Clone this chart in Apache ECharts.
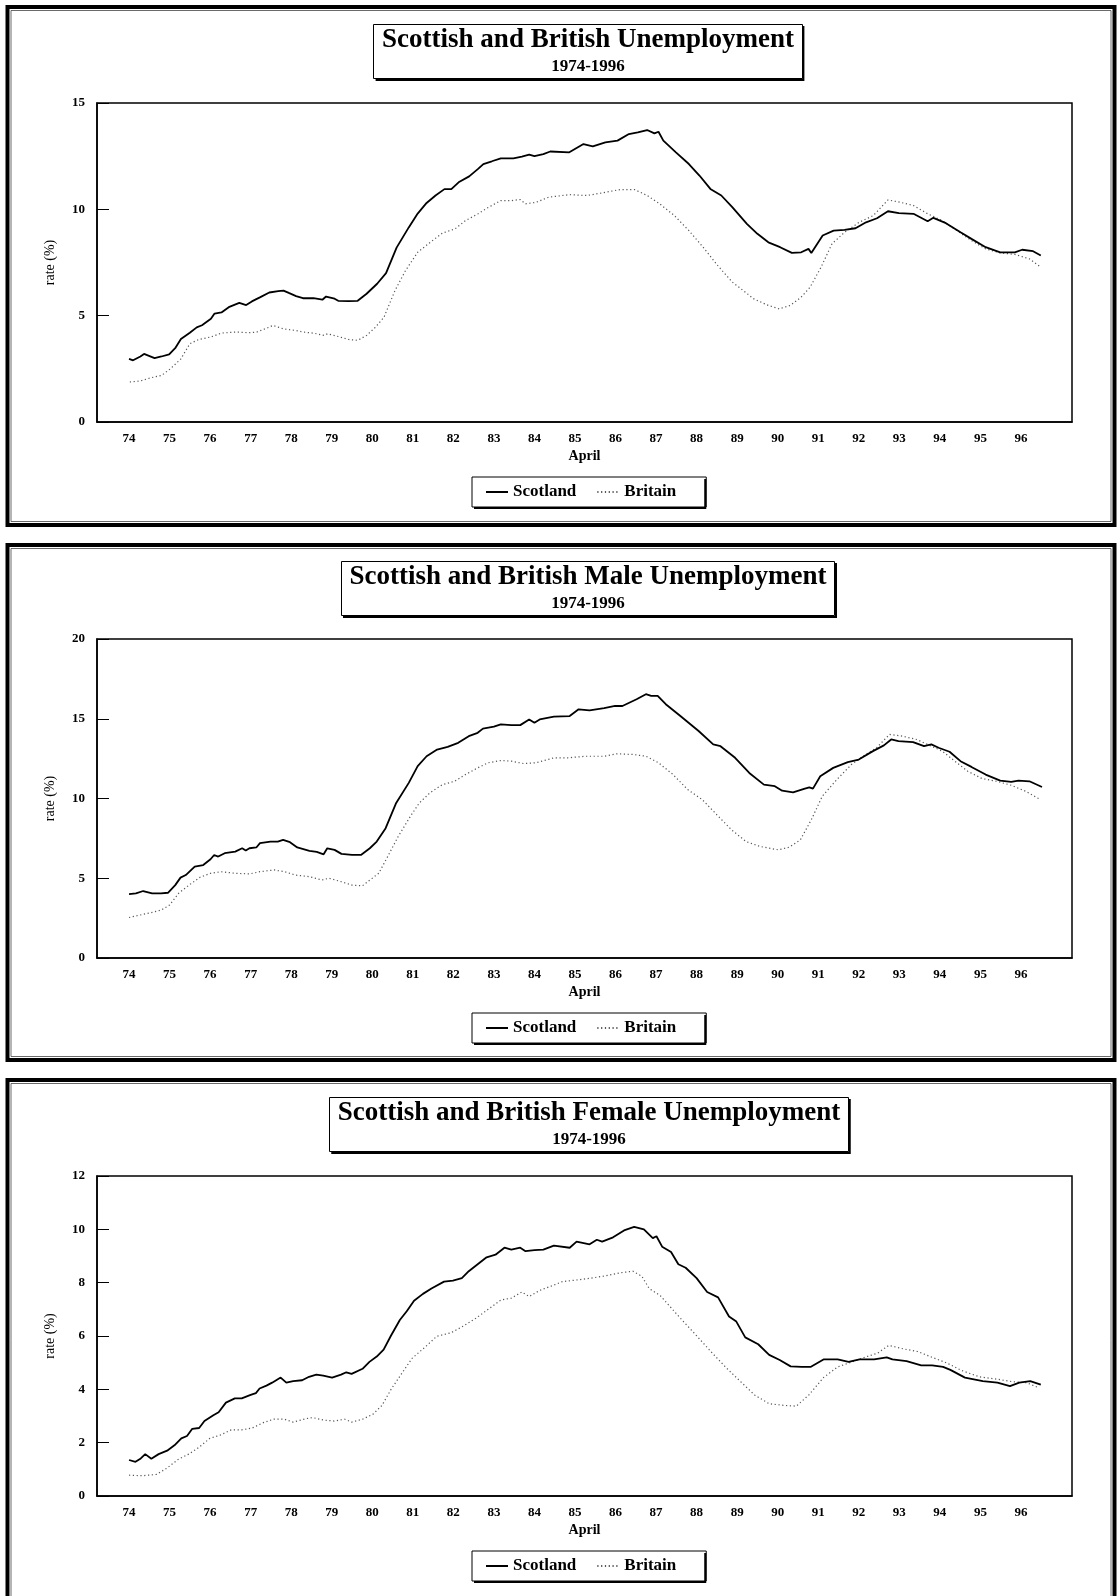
<!DOCTYPE html>
<html>
<head>
<meta charset="utf-8">
<script src="https://cdn.jsdelivr.net/npm/echarts@6/dist/echarts.min.js"></script>
<style>
  html, body { margin: 0; padding: 0; background: #fff; }
  #chart { width: 1117px; height: 1596px; }
</style>
</head>
<body>
<div id="chart"></div>
<script>
// ---------- data (x = year label, 74 = April 1974; y = rate %) ----------
const tickYears = [74,75,76,77,78,79,80,81,82,83,84,85,86,87,88,89,90,91,92,93,94,95,96];

const panelTitles = [
  'Scottish and British Unemployment',
  'Scottish and British Male Unemployment',
  'Scottish and British Female Unemployment'
];
const panelSubtitle = '1974-1996';
const seriesNames = ['Scotland', 'Britain'];
const yMaxes = [15, 20, 12];
const yIntervals = [5, 5, 2];

const scotlandAll = [[74.00,2.97],[74.10,2.90],[74.28,3.08],[74.37,3.20],[74.63,3.00],[74.80,3.08],[74.99,3.18],[75.15,3.50],[75.28,3.90],[75.50,4.20],[75.67,4.45],[75.80,4.55],[76.02,4.85],[76.11,5.10],[76.28,5.15],[76.46,5.40],[76.72,5.60],[76.89,5.50],[77.03,5.67],[77.24,5.87],[77.46,6.09],[77.68,6.15],[77.81,6.18],[77.94,6.07],[78.12,5.92],[78.29,5.82],[78.55,5.82],[78.77,5.75],[78.86,5.90],[79.07,5.80],[79.16,5.70],[79.42,5.68],[79.64,5.70],[79.86,6.03],[80.12,6.50],[80.34,7.00],[80.60,8.20],[80.90,9.15],[81.12,9.80],[81.34,10.30],[81.56,10.65],[81.78,10.95],[81.95,10.95],[82.13,11.27],[82.39,11.55],[82.61,11.90],[82.74,12.13],[82.95,12.26],[83.17,12.40],[83.48,12.40],[83.69,12.48],[83.87,12.57],[84.00,12.50],[84.22,12.60],[84.39,12.72],[84.86,12.68],[85.21,13.07],[85.44,12.96],[85.75,13.15],[86.05,13.23],[86.33,13.54],[86.55,13.62],[86.78,13.73],[86.96,13.57],[87.06,13.65],[87.18,13.23],[87.49,12.68],[87.81,12.13],[88.07,11.59],[88.34,10.96],[88.61,10.65],[88.88,10.10],[89.24,9.32],[89.50,8.85],[89.77,8.45],[90.06,8.22],[90.35,7.95],[90.58,7.98],[90.76,8.14],[90.83,7.95],[91.11,8.77],[91.38,9.00],[91.65,9.03],[91.92,9.11],[92.18,9.39],[92.45,9.58],[92.72,9.91],[92.99,9.82],[93.35,9.79],[93.70,9.44],[93.84,9.60],[94.15,9.35],[94.51,8.92],[94.78,8.61],[95.13,8.22],[95.49,7.98],[95.85,7.98],[96.03,8.10],[96.30,8.03],[96.49,7.83]];

const britainAll = [[74.02,1.88],[74.28,1.93],[74.54,2.08],[74.80,2.19],[75.02,2.50],[75.28,2.97],[75.50,3.68],[75.72,3.88],[76.02,4.00],[76.28,4.18],[76.63,4.23],[76.98,4.20],[77.15,4.23],[77.42,4.43],[77.55,4.54],[77.81,4.38],[78.12,4.30],[78.29,4.23],[78.55,4.18],[78.81,4.07],[78.90,4.15],[79.16,4.02],[79.42,3.88],[79.64,3.84],[79.86,4.07],[80.08,4.46],[80.29,4.93],[80.56,6.18],[80.82,7.12],[81.12,7.98],[81.43,8.45],[81.73,8.88],[82.04,9.08],[82.30,9.47],[82.61,9.79],[82.87,10.10],[83.17,10.41],[83.43,10.41],[83.65,10.46],[83.78,10.26],[84.04,10.33],[84.35,10.57],[84.86,10.69],[85.30,10.65],[85.75,10.80],[86.11,10.93],[86.47,10.93],[86.78,10.65],[87.09,10.26],[87.45,9.71],[87.81,9.00],[88.16,8.22],[88.52,7.36],[88.88,6.58],[89.15,6.18],[89.41,5.79],[89.77,5.48],[90.04,5.32],[90.31,5.48],[90.58,5.87],[90.80,6.34],[91.07,7.28],[91.34,8.38],[91.65,8.92],[92.01,9.39],[92.36,9.71],[92.72,10.44],[93.03,10.33],[93.35,10.18],[93.70,9.79],[94.06,9.47],[94.42,9.00],[94.78,8.53],[95.13,8.14],[95.49,7.95],[95.85,7.88],[96.21,7.67],[96.49,7.28]];

const scotlandMale = [[74.00,4.01],[74.17,4.05],[74.35,4.20],[74.57,4.05],[74.79,4.05],[74.96,4.09],[75.14,4.57],[75.27,5.04],[75.40,5.20],[75.62,5.73],[75.83,5.83],[76.01,6.19],[76.10,6.46],[76.20,6.36],[76.36,6.57],[76.62,6.67],[76.79,6.88],[76.88,6.74],[76.97,6.88],[77.14,6.93],[77.23,7.20],[77.49,7.30],[77.67,7.30],[77.80,7.41],[77.97,7.26],[78.15,6.93],[78.45,6.72],[78.63,6.65],[78.80,6.50],[78.89,6.88],[79.07,6.78],[79.24,6.53],[79.50,6.46],[79.72,6.46],[79.94,6.88],[80.11,7.30],[80.33,8.14],[80.59,9.72],[80.90,10.98],[81.12,12.03],[81.34,12.65],[81.60,13.07],[81.86,13.24],[82.12,13.49],[82.38,13.91],[82.60,14.12],[82.73,14.38],[83.00,14.50],[83.17,14.65],[83.43,14.60],[83.65,14.60],[83.87,14.96],[84.00,14.75],[84.13,14.96],[84.48,15.13],[84.87,15.17],[85.09,15.59],[85.36,15.53],[85.72,15.66],[85.99,15.80],[86.17,15.80],[86.52,16.22],[86.75,16.54],[86.88,16.43],[87.04,16.43],[87.24,15.91],[87.60,15.17],[88.05,14.23],[88.41,13.39],[88.59,13.28],[88.95,12.55],[89.30,11.60],[89.66,10.87],[89.93,10.77],[90.11,10.49],[90.38,10.39],[90.65,10.60],[90.78,10.70],[90.87,10.62],[91.05,11.40],[91.37,11.92],[91.73,12.28],[92.00,12.44],[92.35,12.97],[92.62,13.33],[92.80,13.70],[92.98,13.60],[93.34,13.54],[93.61,13.28],[93.79,13.39],[93.97,13.18],[94.24,12.93],[94.51,12.34],[94.78,11.98],[95.13,11.50],[95.49,11.12],[95.76,11.04],[95.94,11.12],[96.21,11.08],[96.52,10.72]];

const britainMale = [[74.00,2.54],[74.26,2.69],[74.52,2.83],[74.79,3.00],[75.00,3.32],[75.22,4.05],[75.48,4.57],[75.75,5.06],[76.01,5.31],[76.27,5.41],[76.62,5.31],[76.97,5.27],[77.23,5.41],[77.58,5.52],[77.84,5.41],[78.10,5.20],[78.45,5.10],[78.76,4.89],[78.93,5.00],[79.24,4.78],[79.50,4.57],[79.76,4.53],[79.94,4.89],[80.16,5.31],[80.38,6.36],[80.64,7.62],[80.94,8.88],[81.16,9.72],[81.42,10.35],[81.73,10.87],[82.03,11.08],[82.30,11.50],[82.60,11.92],[82.86,12.24],[83.17,12.38],[83.43,12.34],[83.74,12.19],[84.04,12.24],[84.48,12.55],[84.82,12.55],[85.27,12.65],[85.72,12.65],[86.03,12.80],[86.43,12.76],[86.75,12.65],[87.06,12.24],[87.42,11.50],[87.78,10.56],[88.14,9.93],[88.50,8.98],[88.86,8.04],[89.22,7.30],[89.57,6.99],[90.02,6.78],[90.29,6.95],[90.56,7.41],[90.83,8.67],[91.10,10.14],[91.46,11.19],[91.82,12.13],[92.17,12.76],[92.44,13.18],[92.76,14.02],[93.07,13.91],[93.43,13.70],[93.79,13.28],[94.06,12.97],[94.42,12.24],[94.69,11.71],[95.04,11.25],[95.40,11.08],[95.76,10.83],[96.12,10.45],[96.48,9.93]];

const scotlandFemale = [[74.00,1.35],[74.16,1.28],[74.29,1.41],[74.40,1.57],[74.55,1.40],[74.73,1.57],[74.94,1.70],[75.12,1.90],[75.29,2.16],[75.43,2.25],[75.56,2.52],[75.73,2.55],[75.86,2.81],[76.08,3.03],[76.21,3.14],[76.39,3.50],[76.61,3.66],[76.78,3.66],[77.00,3.79],[77.13,3.86],[77.22,4.03],[77.39,4.14],[77.53,4.25],[77.74,4.44],[77.88,4.25],[78.05,4.31],[78.27,4.34],[78.44,4.47],[78.62,4.55],[78.79,4.51],[79.01,4.44],[79.23,4.55],[79.36,4.64],[79.49,4.58],[79.76,4.77],[79.93,5.03],[80.11,5.23],[80.28,5.49],[80.46,6.01],[80.68,6.60],[80.85,6.93],[81.03,7.32],[81.25,7.58],[81.46,7.78],[81.77,8.04],[81.99,8.08],[82.21,8.17],[82.38,8.43],[82.60,8.69],[82.82,8.95],[83.04,9.05],[83.26,9.31],[83.43,9.24],[83.65,9.31],[83.78,9.18],[84.00,9.22],[84.22,9.24],[84.48,9.39],[84.87,9.31],[85.04,9.54],[85.36,9.44],[85.54,9.61],[85.67,9.54],[85.94,9.70],[86.21,9.96],[86.46,10.09],[86.70,10.00],[86.92,9.67],[87.01,9.74],[87.15,9.35],[87.37,9.15],[87.55,8.69],[87.73,8.56],[88.00,8.17],[88.26,7.65],[88.53,7.45],[88.80,6.73],[88.98,6.54],[89.20,5.95],[89.52,5.69],[89.79,5.29],[90.05,5.10],[90.32,4.86],[90.59,4.84],[90.81,4.84],[91.13,5.12],[91.48,5.12],[91.75,5.03],[92.02,5.12],[92.38,5.12],[92.69,5.20],[92.83,5.12],[93.18,5.06],[93.54,4.90],[93.81,4.90],[94.08,4.84],[94.26,4.73],[94.62,4.44],[95.06,4.31],[95.42,4.25],[95.73,4.12],[95.96,4.25],[96.23,4.31],[96.49,4.18]];

const britainFemale = [[74.00,0.78],[74.33,0.76],[74.68,0.81],[74.94,1.05],[75.21,1.37],[75.47,1.57],[75.73,1.83],[75.99,2.16],[76.26,2.29],[76.52,2.48],[76.78,2.48],[77.04,2.55],[77.31,2.75],[77.57,2.88],[77.83,2.88],[78.05,2.77],[78.36,2.90],[78.53,2.94],[78.79,2.85],[79.06,2.81],[79.32,2.88],[79.49,2.77],[79.76,2.88],[80.02,3.07],[80.24,3.40],[80.46,3.99],[80.72,4.58],[80.98,5.16],[81.33,5.62],[81.59,5.99],[81.94,6.12],[82.21,6.34],[82.56,6.67],[82.91,7.06],[83.17,7.35],[83.43,7.42],[83.69,7.65],[83.87,7.48],[84.13,7.71],[84.48,7.91],[84.69,8.04],[85.04,8.10],[85.40,8.17],[85.76,8.26],[86.12,8.37],[86.43,8.43],[86.65,8.24],[86.83,7.78],[87.10,7.52],[87.37,7.06],[87.64,6.60],[88.00,6.01],[88.35,5.42],[88.71,4.84],[89.07,4.31],[89.43,3.79],[89.79,3.46],[90.14,3.40],[90.46,3.37],[90.77,3.79],[91.13,4.44],[91.48,4.84],[91.84,5.03],[92.20,5.23],[92.47,5.36],[92.74,5.65],[93.09,5.52],[93.45,5.42],[93.81,5.20],[94.17,4.99],[94.53,4.71],[94.97,4.47],[95.42,4.38],[95.78,4.29],[96.14,4.25],[96.45,4.05]];

const panelData = [
  [scotlandAll, britainAll],
  [scotlandMale, britainMale],
  [scotlandFemale, britainFemale]
];

// ---------- layout / style ----------
const FONT = '"Liberation Serif", "Times New Roman", serif';
const layout = [
  { frameY: 7,    frameH: 518, gridTop: 103,  gridH: 319, titleTop: 24,   titleCx: 588, legendTop: 477 },
  { frameY: 545,  frameH: 515, gridTop: 639,  gridH: 319, titleTop: 561,  titleCx: 588, legendTop: 1013 },
  { frameY: 1080, frameH: 540, gridTop: 1176, gridH: 320, titleTop: 1097, titleCx: 589, legendTop: 1551 }
];
const TITLE = { size: 27, lh: 27, subSize: 17, subLh: 20, padTop: 3, gap: 3, padBottom: 2, padX: 8.5 };
const LEG = { size: 17, lh: 18, padTop: 6, padRight: 30, padBottom: 6, padLeft: 13, itemW: 22, itemH: 14, gap: 20, left: 472 };

// text width measurement (same canvas metrics ECharts uses)
const measureCtx = document.createElement('canvas').getContext('2d');
function textWidth(str, size) {
  measureCtx.font = 'bold ' + size + 'px ' + FONT;
  return measureCtx.measureText(str).width;
}
function shadowLines(l, t, r, b) {
  return {
    type: 'polyline', silent: true, z: 100,
    shape: { points: [[r + 1, t + 2], [r + 1, b + 1], [l + 2, b + 1]] },
    style: { fill: 'none', stroke: '#000', lineWidth: 2 }
  };
}

const chart = echarts.init(document.getElementById('chart'), null, { renderer: 'canvas' });

const option = {
  backgroundColor: '#fff',
  animation: false,
  title: [], legend: [], grid: [], xAxis: [], yAxis: [], series: [],
  graphic: []
};

layout.forEach((L, i) => {
  option.title.push({
    text: panelTitles[i],
    subtext: panelSubtitle,
    left: L.titleCx - TITLE.padX,
    top: L.titleTop,
    textAlign: 'center',
    textVerticalAlign: 'top',
    padding: [TITLE.padTop, TITLE.padX, TITLE.padBottom, TITLE.padX],
    itemGap: TITLE.gap,
    borderColor: '#000',
    borderWidth: 1,
    backgroundColor: '#fff',
    textStyle: { fontFamily: FONT, fontSize: TITLE.size, fontWeight: 'bold', color: '#000', lineHeight: TITLE.lh },
    subtextStyle: { fontFamily: FONT, fontSize: TITLE.subSize, fontWeight: 'bold', color: '#000', lineHeight: TITLE.subLh }
  });
  // title box drop-shadow on right/bottom
  const tw = Math.max(textWidth(panelTitles[i], TITLE.size), textWidth(panelSubtitle, TITLE.subSize));
  const tl = L.titleCx - tw / 2 - TITLE.padX, tr = L.titleCx + tw / 2 + TITLE.padX;
  const tb = L.titleTop + TITLE.padTop + TITLE.lh + TITLE.gap + TITLE.subLh + TITLE.padBottom;
  option.graphic.push(shadowLines(tl, L.titleTop, tr, tb));

  option.legend.push({
    data: seriesNames,
    left: LEG.left,
    top: L.legendTop,
    orient: 'horizontal',
    selectedMode: false,
    padding: [LEG.padTop, LEG.padRight, LEG.padBottom, LEG.padLeft],
    itemWidth: LEG.itemW,
    itemHeight: LEG.itemH,
    itemGap: LEG.gap,
    itemStyle: { opacity: 0 },
    borderColor: '#000',
    borderWidth: 1,
    backgroundColor: '#fff',
    textStyle: { fontFamily: FONT, fontSize: LEG.size, fontWeight: 'bold', color: '#000', lineHeight: LEG.lh }
  });
  const lw = LEG.padLeft + LEG.itemW + 5 + textWidth(seriesNames[0], LEG.size) + LEG.gap +
             LEG.itemW + 5 + textWidth(seriesNames[1], LEG.size) + LEG.padRight;
  const lh = LEG.padTop + Math.max(LEG.lh, LEG.itemH) + LEG.padBottom;
  option.graphic.push(shadowLines(LEG.left, L.legendTop, LEG.left + lw, L.legendTop + lh));

  option.grid.push({
    left: 97, width: 975, top: L.gridTop, height: L.gridH,
    show: true, borderColor: '#000', borderWidth: 1.5, backgroundColor: 'transparent'
  });
  option.xAxis.push({
    gridIndex: i,
    type: 'value',
    min: 73.21,
    max: 97.26,
    name: 'April',
    nameLocation: 'middle',
    nameGap: 27,
    nameTextStyle: { fontFamily: FONT, fontSize: 14, fontWeight: 'bold', color: '#000' },
    axisLine: { show: true, onZero: false, lineStyle: { color: '#000', width: 1.5 } },
    axisTick: { show: false },
    splitLine: { show: false },
    axisLabel: {
      customValues: tickYears,
      formatter: v => String(Math.round(v)),
      margin: 10,
      fontFamily: FONT, fontSize: 13, fontWeight: 'bold', color: '#000'
    }
  });
  option.yAxis.push({
    gridIndex: i,
    type: 'value',
    min: 0,
    max: yMaxes[i],
    interval: yIntervals[i],
    name: 'rate (%)',
    nameLocation: 'middle',
    nameGap: 40,
    nameTextStyle: { fontFamily: FONT, fontSize: 14, color: '#000' },
    axisLine: { show: true, lineStyle: { color: '#000', width: 1.5 } },
    axisTick: { show: true, inside: true, length: 12, lineStyle: { color: '#000', width: 1 } },
    splitLine: { show: false },
    axisLabel: { margin: 12, fontFamily: FONT, fontSize: 13, fontWeight: 'bold', color: '#000' }
  });
  option.series.push({
    name: seriesNames[0],
    type: 'line',
    xAxisIndex: i, yAxisIndex: i,
    data: panelData[i][0],
    symbol: 'none',
    smooth: false,
    lineStyle: { color: '#000', width: 1.8 },
    itemStyle: { color: '#000' },
    z: 3
  });
  option.series.push({
    name: seriesNames[1],
    type: 'line',
    xAxisIndex: i, yAxisIndex: i,
    data: panelData[i][1],
    symbol: 'none',
    smooth: false,
    lineStyle: { color: '#555', width: 1.2, type: [1.2, 2.6] },
    itemStyle: { color: '#555' },
    z: 2
  });
  // panel frame (thick outer + thin inner line)
  option.graphic.push({
    type: 'rect', silent: true, z: 0,
    shape: { x: 7.5, y: L.frameY, width: 1107, height: L.frameH },
    style: { fill: 'none', stroke: '#000', lineWidth: 4 }
  });
  option.graphic.push({
    type: 'rect', silent: true, z: 0,
    shape: { x: 11, y: L.frameY + 3.5, width: 1100, height: L.frameH - 7 },
    style: { fill: 'none', stroke: '#444', lineWidth: 0.8 }
  });
});

chart.setOption(option);
</script>
</body>
</html>
